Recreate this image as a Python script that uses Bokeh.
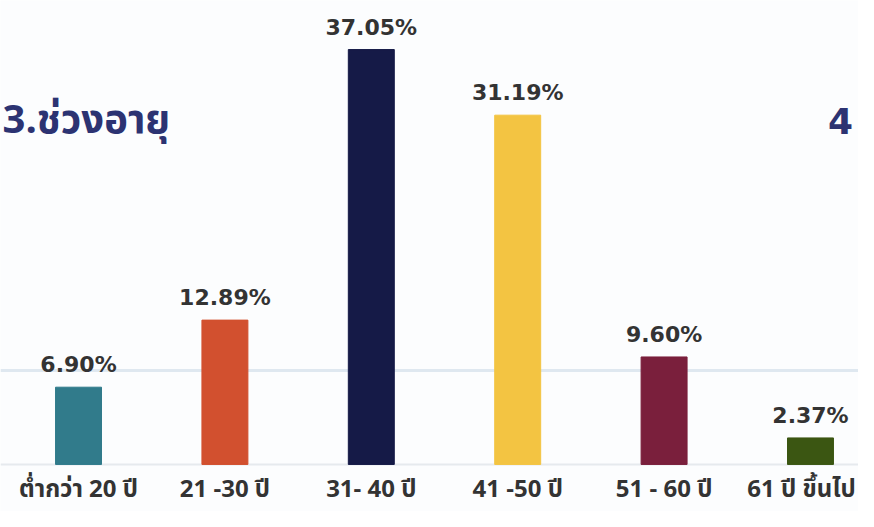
from bokeh.plotting import figure
from bokeh.models import ColumnDataSource, Span, Label
from bokeh.embed import file_html
from bokeh.resources import INLINE
from bokeh.core.properties import value

categories = ["ต่ำกว่า 20 ปี", "21 -30 ปี", "31- 40 ปี", "41 -50 ปี", "51 - 60 ปี", "61 ปี ขึ้นไป"]
percents = [6.90, 12.89, 37.05, 31.19, 9.60, 2.37]
labels = ["6.90%", "12.89%", "37.05%", "31.19%", "9.60%", "2.37%"]
colors = ["#317b8b", "#d2502f", "#151a47", "#f3c442", "#7a1f3c", "#3b5612"]
title_text = "3.ช่วงอายุ"
next_title = "4"

# per-label horizontal nudges (style only) so the last label stays inside the canvas
cat_nudge = [0, 0, 0, 0, 0, -9]

idx = list(range(len(categories)))
src = ColumnDataSource(dict(x=idx, top=percents, label=labels, color=colors,
                            cat=categories, base=[0] * len(idx), nudge=cat_nudge))

p = figure(width=858, height=511, output_backend="svg", toolbar_location=None,
           x_range=(-0.533, 5.328), y_range=(-4.20, 41.43),
           min_border_left=0, min_border_right=0, min_border_top=0, min_border_bottom=0)
p.background_fill_color = "#fcfdfe"
p.border_fill_color = "#fcfdfe"
p.outline_line_color = None
p.grid.visible = False
p.xaxis.visible = False
p.yaxis.visible = False

p.add_layout(Span(location=8.39, dimension="width", line_color="#dfe8f0", line_width=3, level="underlay"))
p.add_layout(Span(location=0, dimension="width", line_color="#e6eaee", line_width=2, level="underlay"))

p.vbar(x="x", top="top", bottom=0, width=0.314, color="color", source=src)
p.text(x="x", y="top", text="label", source=src, text_align="center", text_baseline="bottom",
       y_offset=-10, text_font=value("DejaVu Sans"), text_font_style="bold",
       text_font_size="22px", text_color="#333333")
p.text(x="x", y="base", text="cat", source=src, text_align="center", text_baseline="alphabetic",
       x_offset="nudge", y_offset=26, text_font=value("Noto Sans Thai, Tahoma, sans-serif"),
       text_font_style="bold", text_font_size="24px", text_color="#333333")

p.add_layout(Label(x=-0.519, y=30.71, text=title_text, text_baseline="middle", text_align="left",
                   text_font="Noto Sans Thai, Tahoma, sans-serif", text_font_size="40px",
                   text_font_style="bold", text_color="#2c3372"))
p.add_layout(Label(x=5.12, y=30.71, text=next_title, text_baseline="middle", text_align="left",
                   text_font="DejaVu Sans", text_font_size="36px", text_font_style="bold",
                   text_color="#2c3372"))

open("out.html", "w").write(file_html(p, INLINE))
